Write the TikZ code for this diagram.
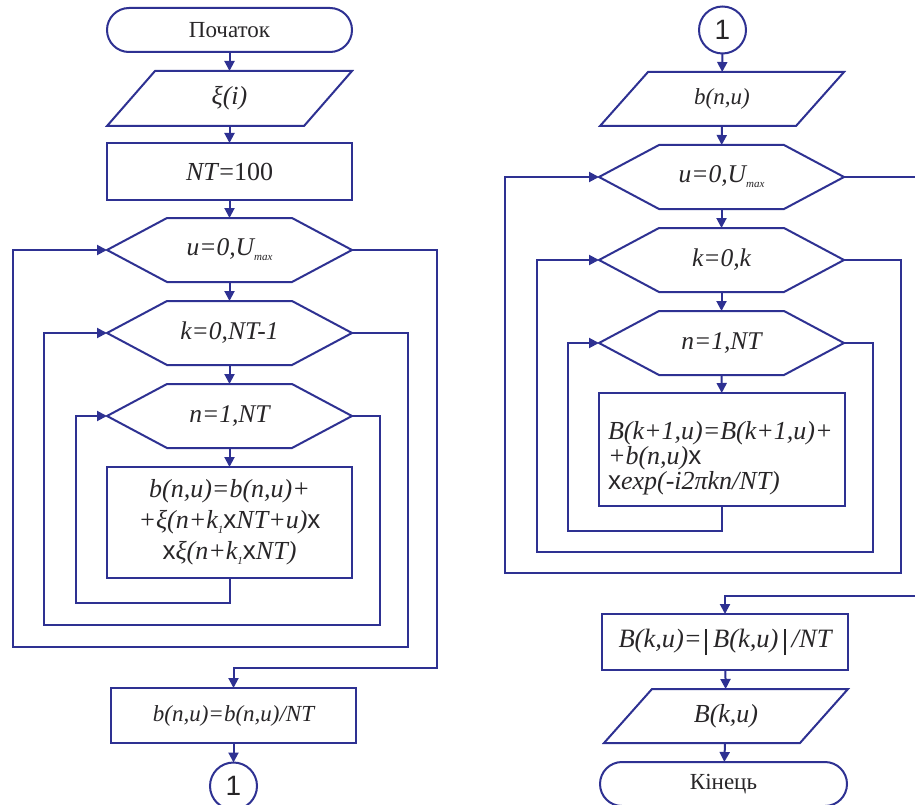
\documentclass[tikz,border=0pt]{standalone}
\usepackage{fontspec}
\setmainfont{Liberation Serif}
\newfontfamily\arialf{Liberation Sans}
\usetikzlibrary{arrows.meta}
\definecolor{lc}{RGB}{46,49,146}
\definecolor{tc}{RGB}{40,38,40}
\newcommand{\mx}{{\arialf\upshape x}}
\newcommand{\sbs}[1]{\raisebox{-5pt}{\fontsize{11}{11}\selectfont\itshape #1}}
\newcommand{\hexout}[1]{\draw[ln] (#1.west) -- ([xshift=60pt]#1.north west) -- ([xshift=-60pt]#1.north east) -- (#1.east) -- ([xshift=-60pt]#1.south east) -- ([xshift=60pt]#1.south west) -- cycle;}
\newcommand{\parout}[1]{\draw[ln] ([xshift=48pt]#1.north west) -- (#1.north east) -- ([xshift=-48pt]#1.south east) -- (#1.south west) -- cycle;}
\newcommand{\vbar}{\rule[-8pt]{2.2pt}{26pt}}
\newcommand{\fs}[2]{\fontsize{#1}{#2}\selectfont}
\begin{document}
\begin{tikzpicture}[x=1pt,y=-1pt,
  ln/.style={draw=lc, line width=2pt, line join=miter},
  arr/.style={ln, -{Triangle[length=10pt,width=10pt]}},
  base/.style={inner sep=0pt, outer sep=0pt, text=tc, font=\fs{26}{31}, align=center},
  term/.style={base, draw=lc, line width=2pt, rounded corners=22pt, minimum width=245pt, minimum height=44pt, font=\fs{23}{26}},
  proc/.style={base, draw=lc, line width=2pt, minimum width=245pt},
  hexa/.style={base, minimum width=245pt, minimum height=64pt, font=\fs{25.5}{30}},
  para/.style={base, minimum width=245pt},
  conn/.style={base, circle, draw=lc, line width=2pt, minimum size=47pt, font=\arialf\fs{28}{28}}
]
\useasboundingbox (0,0) rectangle (915,805);
\fill[white] (0,0) rectangle (915,805);
% ---------- left column ----------
\node[term] (start) at (229.5,30) {Початок};
\node[para, minimum height=55pt] (in1) at (229.5,98.5) {\itshape ξ(i)};
\node[proc, minimum height=57pt] (nt) at (229.5,171.5) {\textit{NT}=100};
\node[hexa] (hu) at (229.5,250) {\itshape u=0,U\sbs{max}};
\node[hexa] (hk) at (229.5,333) {\itshape k=0,NT-1};
\node[hexa] (hn) at (229.5,416) {\itshape n=1,NT};
\node[proc, minimum height=111pt] (bx1) at (229.5,522.5) {\itshape b(n,u)=b(n,u)+\\\itshape +ξ(n+k\sbs{1}\mx NT+u)\mx\\\mx\itshape ξ(n+k\sbs{1}\mx NT)};
\node[proc, minimum height=55pt, font=\fs{23}{28}] (bx2) at (233.5,715.5) {\itshape b(n,u)=b(n,u)/NT};
\node[conn] (c1) at (233.5,786) {1};
\parout{in1}
\hexout{hu}
\hexout{hk}
\hexout{hn}
\draw[arr] (start) -- (in1);
\draw[arr] (in1) -- (nt);
\draw[arr] (nt) -- (hu);
\draw[arr] (hu) -- (hk);
\draw[arr] (hk) -- (hn);
\draw[arr] (hn) -- (bx1);
\draw[arr] (bx1.south) |- (76,603) |- (hn.west);
\draw[arr] (hn.east) -| (380,625) -- (44,625) |- (hk.west);
\draw[arr] (hk.east) -| (408,647) -- (13,647) |- (hu.west);
\draw[arr] (hu.east) -| (437,668) -| (bx2.north);
\draw[arr] (bx2) -- (c1);
% ---------- right column ----------
\node[conn] (c2) at (722.5,30) {1};
\node[para, minimum height=54pt, minimum width=244pt, font=\fs{23}{28}] (inb) at (722,99) {\itshape b(n,u)};
\node[hexa] (hu2) at (721.5,177) {\itshape u=0,U\sbs{max}};
\node[hexa] (hk2) at (721.5,260) {\itshape k=0,k};
\node[hexa] (hn2) at (721.5,343) {\itshape n=1,NT};
\node[proc, minimum height=113pt, minimum width=246pt, text width=228pt, inner xsep=9pt, align=left, font=\fs{26}{25}] (bxB) at (722,449.5) {\rule{0pt}{36pt}\itshape B(k+1,u)=B(k+1,u)+\\\itshape +b(n,u)\mx\\\mx\itshape exp(-i2πkn/NT)};
\node[proc, minimum height=56pt, minimum width=246pt, font=\fs{26.5}{31}] (bxB2) at (725,642) {\itshape B(k,u)=\hspace{3pt}\vbar\hspace{6pt}B(k,u)\hspace{5pt}\vbar\hspace{6pt}/NT};
\node[para, minimum height=54pt, minimum width=244pt] (outB) at (726,716) {\itshape B(k,u)};
\node[term, minimum width=247pt] (end) at (723.5,784) {Кінець};
\parout{inb}
\parout{outB}
\hexout{hu2}
\hexout{hk2}
\hexout{hn2}
\draw[arr] (c2) -- (inb);
\draw[arr] (inb) -- (hu2);
\draw[arr] (hu2) -- (hk2);
\draw[arr] (hk2) -- (hn2);
\draw[arr] (hn2) -- (bxB);
\draw[arr] (bxB.south) |- (568,531) |- (hn2.west);
\draw[arr] (hn2.east) -| (873,552) -- (537,552) |- (hk2.west);
\draw[arr] (hk2.east) -| (901,573) -- (505,573) |- (hu2.west);
\draw[arr] (hu2.east) -| (919,596) -| (bxB2.north);
\draw[arr] (bxB2) -- (outB);
\draw[arr] (outB) -- (end);
\end{tikzpicture}
\end{document}
